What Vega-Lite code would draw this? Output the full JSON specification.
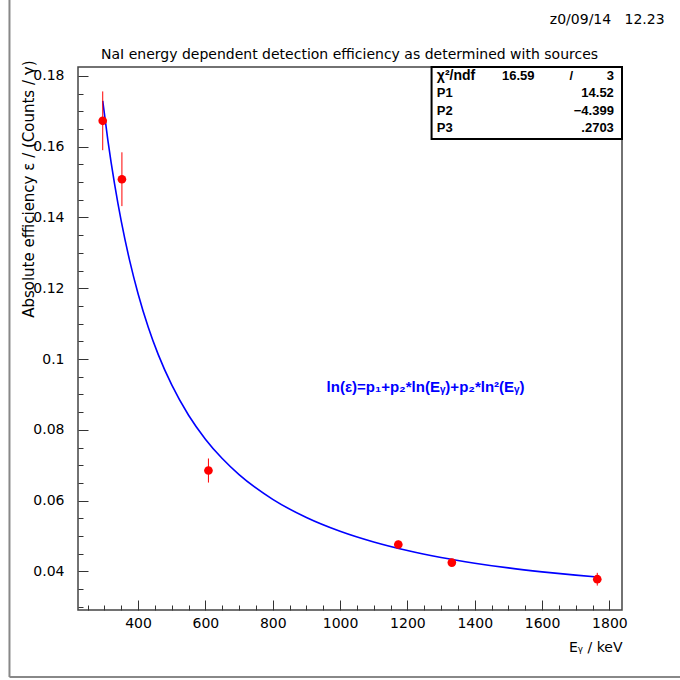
{
  "$schema": "https://vega.github.io/schema/vega-lite/v6.json",
  "width": 544,
  "height": 543,
  "autosize": {"type": "none"},
  "padding": {"left": 78, "top": 67, "right": 58, "bottom": 70},
  "background": "white",
  "config": {"view": {"stroke": "#444444", "strokeWidth": 1.5}, "font": "DejaVu Sans"},
  "resolve": {"axis": {"x": "independent", "y": "independent"}},
  "datasets": {
    "points": [
      {"E": 295, "eff": 0.1673, "err": 0.0083},
      {"E": 352, "eff": 0.1508, "err": 0.0076},
      {"E": 609, "eff": 0.0685, "err": 0.0034},
      {"E": 1173, "eff": 0.0476, "err": 0.0011},
      {"E": 1332, "eff": 0.0425, "err": 0.0010},
      {"E": 1764, "eff": 0.0378, "err": 0.0018}
    ],
    "fit": [
      {"E": 295, "eff": 0.17291},
      {"E": 310, "eff": 0.16201},
      {"E": 320, "eff": 0.15550},
      {"E": 330, "eff": 0.14955},
      {"E": 340, "eff": 0.14403},
      {"E": 350, "eff": 0.13896},
      {"E": 375, "eff": 0.12780},
      {"E": 400, "eff": 0.11846},
      {"E": 430, "eff": 0.10905},
      {"E": 460, "eff": 0.10124},
      {"E": 500, "eff": 0.09268},
      {"E": 550, "eff": 0.08413},
      {"E": 600, "eff": 0.07737},
      {"E": 650, "eff": 0.07188},
      {"E": 700, "eff": 0.06735},
      {"E": 800, "eff": 0.06036},
      {"E": 900, "eff": 0.05523},
      {"E": 1000, "eff": 0.05134},
      {"E": 1100, "eff": 0.04831},
      {"E": 1200, "eff": 0.04589},
      {"E": 1300, "eff": 0.04393},
      {"E": 1400, "eff": 0.04233},
      {"E": 1500, "eff": 0.04099},
      {"E": 1600, "eff": 0.03988},
      {"E": 1700, "eff": 0.03894},
      {"E": 1764, "eff": 0.03841}
    ]
  },
  "layer": [
    {
      "data": {"name": "fit"},
      "mark": {"type": "line", "color": "#0000ff", "strokeWidth": 1.6, "interpolate": "monotone", "clip": true},
      "encoding": {
        "x": {"field": "E", "type": "quantitative",
          "scale": {"domain": [221.55, 1837.45], "nice": false, "zero": false},
          "axis": {
            "title": "Eᵧ / keV", "titleFont": "DejaVu Sans", "titleFontSize": 14, "titleFontWeight": "normal", "titleColor": "black",
            "titleAnchor": "end", "titleX": 544, "titleY": 37, "titleBaseline": "middle", "titleAlign": "right",
            "values": [250,300,350,400,450,500,550,600,650,700,750,800,850,900,950,1000,1050,1100,1150,1200,1250,1300,1350,1400,1450,1500,1550,1600,1650,1700,1750,1800],
            "labelExpr": "datum.value % 200 === 0 ? toString(datum.value) : ''",
            "tickSize": {"condition": {"test": "datum.value % 200 === 0", "value": -10}, "value": -5},
            "tickColor": "#333333", "tickWidth": 1,
            "labelPadding": 16, "labelFont": "DejaVu Sans", "labelFontSize": 14, "labelColor": "black",
            "labelOverlap": false, "labelFlush": false, "grid": false, "domain": false
          }
        },
        "y": {"field": "eff", "type": "quantitative",
          "scale": {"domain": [0.0291, 0.1825], "nice": false, "zero": false},
          "axis": {
            "title": "Absolute efficiency ε / (Counts / γ)", "titleFont": "DejaVu Sans", "titleFontSize": 15, "titleFontWeight": "normal", "titleColor": "black",
            "titleAnchor": "end", "titleX": -50, "titleY": -7, "titleBaseline": "middle", "titleAlign": "right",
            "values": [0.03,0.035,0.04,0.045,0.05,0.055,0.06,0.065,0.07,0.075,0.08,0.085,0.09,0.095,0.1,0.105,0.11,0.115,0.12,0.125,0.13,0.135,0.14,0.145,0.15,0.155,0.16,0.165,0.17,0.175,0.18],
            "labelExpr": "round(datum.value*1000) % 20 === 0 ? toString(round(datum.value*100)/100) : ''",
            "tickSize": {"condition": {"test": "round(datum.value*1000) % 20 === 0", "value": -10}, "value": -5},
            "tickColor": "#333333", "tickWidth": 1,
            "labelPadding": 24, "labelFont": "DejaVu Sans", "labelFontSize": 14, "labelColor": "black",
            "labelOverlap": false, "labelFlush": false, "grid": false, "domain": false
          }
        }
      }
    },
    {
      "data": {"name": "points"},
      "mark": {"type": "errorbar", "color": "#ff0000", "thickness": 1},
      "encoding": {
        "x": {"field": "E", "type": "quantitative", "axis": null},
        "y": {"field": "eff", "type": "quantitative", "axis": null},
        "yError": {"field": "err"}
      }
    },
    {
      "data": {"name": "points"},
      "mark": {"type": "point", "filled": true, "shape": "circle", "color": "#ff0000", "opacity": 1, "size": 75},
      "encoding": {
        "x": {"field": "E", "type": "quantitative", "axis": null},
        "y": {"field": "eff", "type": "quantitative", "axis": null}
      }
    },
    {
      "data": {"values": [{}]},
      "mark": {"type": "rect", "fill": "white", "stroke": "black", "strokeWidth": 2},
      "encoding": {
        "x": {"datum": 1271.8, "type": "quantitative", "axis": null},
        "x2": {"datum": 1837.45},
        "y": {"datum": 0.1825, "type": "quantitative", "axis": null},
        "y2": {"datum": 0.16213}
      }
    },
    {
      "data": {"values": [{}]},
      "mark": {"type": "text", "align": "left", "baseline": "middle", "font": "Liberation Sans", "fontWeight": "bold", "fontSize": 14, "color": "black", "text": "χ²/ndf"},
      "encoding": {"x": {"datum": 1287.5, "type": "quantitative", "axis": null}, "y": {"datum": 0.18006, "type": "quantitative", "axis": null}}
    },
    {
      "data": {"values": [{}]},
      "mark": {"type": "text", "align": "right", "baseline": "middle", "font": "Liberation Sans", "fontWeight": "bold", "fontSize": 13, "color": "black", "text": "16.59"},
      "encoding": {"x": {"datum": 1577.8, "type": "quantitative", "axis": null}, "y": {"datum": 0.18006, "type": "quantitative", "axis": null}}
    },
    {
      "data": {"values": [{}]},
      "mark": {"type": "text", "align": "center", "baseline": "middle", "font": "Liberation Sans", "fontWeight": "bold", "fontSize": 13, "color": "black", "text": "/"},
      "encoding": {"x": {"datum": 1686.7, "type": "quantitative", "axis": null}, "y": {"datum": 0.18006, "type": "quantitative", "axis": null}}
    },
    {
      "data": {"values": [{}]},
      "mark": {"type": "text", "align": "right", "baseline": "middle", "font": "Liberation Sans", "fontWeight": "bold", "fontSize": 13, "color": "black", "text": "3"},
      "encoding": {"x": {"datum": 1813.3, "type": "quantitative", "axis": null}, "y": {"datum": 0.18006, "type": "quantitative", "axis": null}}
    },
    {
      "data": {"values": [{}]},
      "mark": {"type": "text", "align": "left", "baseline": "middle", "font": "Liberation Sans", "fontWeight": "bold", "fontSize": 13, "color": "black", "text": "P1"},
      "encoding": {"x": {"datum": 1287.5, "type": "quantitative", "axis": null}, "y": {"datum": 0.17512, "type": "quantitative", "axis": null}}
    },
    {
      "data": {"values": [{}]},
      "mark": {"type": "text", "align": "right", "baseline": "middle", "font": "Liberation Sans", "fontWeight": "bold", "fontSize": 13, "color": "black", "text": "14.52"},
      "encoding": {"x": {"datum": 1813.3, "type": "quantitative", "axis": null}, "y": {"datum": 0.17512, "type": "quantitative", "axis": null}}
    },
    {
      "data": {"values": [{}]},
      "mark": {"type": "text", "align": "left", "baseline": "middle", "font": "Liberation Sans", "fontWeight": "bold", "fontSize": 13, "color": "black", "text": "P2"},
      "encoding": {"x": {"datum": 1287.5, "type": "quantitative", "axis": null}, "y": {"datum": 0.17018, "type": "quantitative", "axis": null}}
    },
    {
      "data": {"values": [{}]},
      "mark": {"type": "text", "align": "right", "baseline": "middle", "font": "Liberation Sans", "fontWeight": "bold", "fontSize": 13, "color": "black", "text": "−4.399"},
      "encoding": {"x": {"datum": 1813.3, "type": "quantitative", "axis": null}, "y": {"datum": 0.17018, "type": "quantitative", "axis": null}}
    },
    {
      "data": {"values": [{}]},
      "mark": {"type": "text", "align": "left", "baseline": "middle", "font": "Liberation Sans", "fontWeight": "bold", "fontSize": 13, "color": "black", "text": "P3"},
      "encoding": {"x": {"datum": 1287.5, "type": "quantitative", "axis": null}, "y": {"datum": 0.16524, "type": "quantitative", "axis": null}}
    },
    {
      "data": {"values": [{}]},
      "mark": {"type": "text", "align": "right", "baseline": "middle", "font": "Liberation Sans", "fontWeight": "bold", "fontSize": 13, "color": "black", "text": ".2703"},
      "encoding": {"x": {"datum": 1813.3, "type": "quantitative", "axis": null}, "y": {"datum": 0.16524, "type": "quantitative", "axis": null}}
    },
    {
      "data": {"values": [{}]},
      "mark": {"type": "text", "align": "center", "baseline": "middle", "font": "Liberation Sans", "fontWeight": "bold", "fontSize": 15, "color": "#0000ff", "text": "ln(ε)=p₁+p₂*ln(Eᵧ)+p₂*ln²(Eᵧ)"},
      "encoding": {"x": {"datum": 1254, "type": "quantitative", "axis": null}, "y": {"datum": 0.0921, "type": "quantitative", "axis": null}}
    },
    {
      "data": {"values": [{}]},
      "mark": {"type": "text", "align": "center", "baseline": "middle", "font": "DejaVu Sans", "fontSize": 14, "color": "black", "text": "NaI energy dependent detection efficiency as determined with sources"},
      "encoding": {"x": {"datum": 1028.2, "type": "quantitative", "axis": null}, "y": {"datum": 0.18589, "type": "quantitative", "axis": null}}
    },
    {
      "data": {"values": [{}]},
      "mark": {"type": "text", "align": "right", "baseline": "middle", "font": "DejaVu Sans", "fontSize": 14, "color": "black", "text": "z0/09/14\u00a0\u00a0\u00a012.23"},
      "encoding": {"x": {"datum": 1964, "type": "quantitative", "axis": null}, "y": {"datum": 0.1957, "type": "quantitative", "axis": null}}
    },
    {
      "data": {"values": [{}]},
      "mark": {"type": "rule", "color": "#888888", "strokeWidth": 2},
      "encoding": {"x": {"datum": 18, "type": "quantitative", "axis": null}, "y": {"datum": 0.0102, "type": "quantitative", "axis": null}, "y2": {"datum": 0.2015}}
    },
    {
      "data": {"values": [{}]},
      "mark": {"type": "rule", "color": "#888888", "strokeWidth": 2},
      "encoding": {"x": {"datum": 18, "type": "quantitative", "axis": null}, "x2": {"datum": 2030}, "y": {"datum": 0.0102, "type": "quantitative", "axis": null}}
    }
  ]
}
